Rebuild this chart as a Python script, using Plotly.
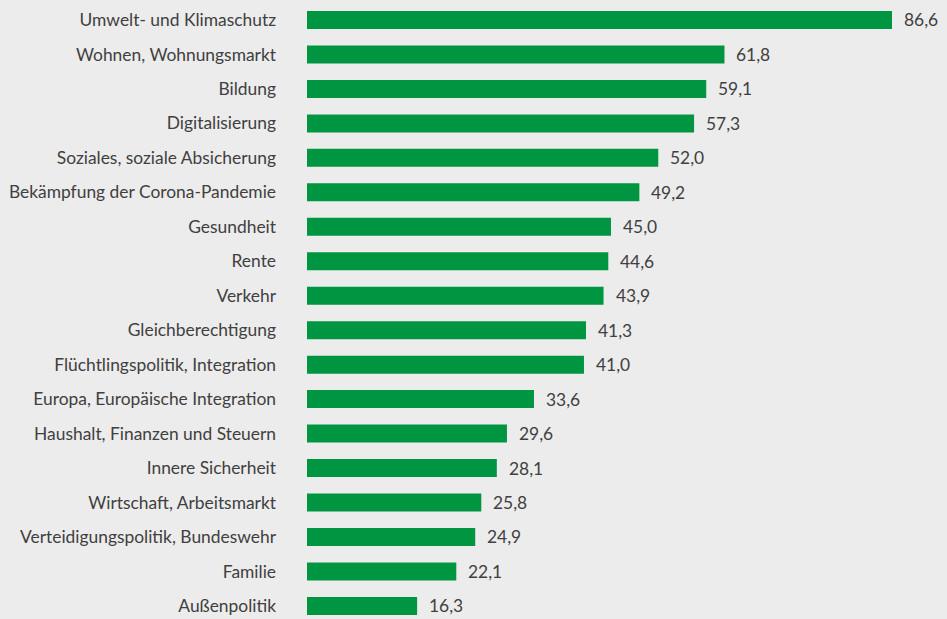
import plotly.graph_objects as go

#-----------------------------------------------------------------------------
# data
THEMEN = ['Umwelt- und Klimaschutz', 'Wohnen, Wohnungsmarkt', 'Bildung',
          'Digitalisierung', 'Soziales, soziale Absicherung',
          'Bekämpfung der Corona-Pandemie', 'Gesundheit', 'Rente', 'Verkehr',
          'Gleichberechtigung', 'Flüchtlingspolitik, Integration',
          'Europa, Europäische Integration', 'Haushalt, Finanzen und Steuern',
          'Innere Sicherheit', 'Wirtschaft, Arbeitsmarkt',
          'Verteidigungspolitik, Bundeswehr', 'Familie', 'Außenpolitik']
WERTE = [86.6, 61.8, 59.1, 57.3, 52.0, 49.2, 45.0, 44.6, 43.9,
         41.3, 41.0, 33.6, 29.6, 28.1, 25.8, 24.9, 22.1, 16.3]

BG = '#ececec'
GREEN = '#009641'
TEXT = '#404040'

fig = go.Figure(go.Bar(
    x=WERTE,
    y=THEMEN,
    orientation='h',
    marker=dict(color=GREEN, line_width=0),
    hoverinfo='skip',
))

# value labels right of each bar, german decimal comma
for thema, wert in zip(THEMEN, WERTE):
    fig.add_annotation(x=wert, y=thema, text=f'{wert:.1f}'.replace('.', ','),
                       xanchor='left', xshift=10, showarrow=False,
                       font=dict(size=17.4, color=TEXT, family='Lato'))

fig.update_layout(
    width=947, height=619,
    margin=dict(l=307, r=0, t=0, b=0),
    paper_bgcolor=BG, plot_bgcolor=BG,
    bargap=0.478,
    showlegend=False,
    font=dict(family='Lato', size=17.4, color=TEXT),
)
fig.update_xaxes(range=[0, 94.74], visible=False, showgrid=False, zeroline=False)
fig.update_yaxes(range=[17.38, -0.58], showgrid=False, zeroline=False,
                 ticks='', ticklabelstandoff=30, showline=False)

# page body has a default margin, drop it so the chart fills the window
fig.write_html('out.html', config={'displayModeBar': False},
               post_script="document.body.style.margin='0';"
                           "document.body.style.background='" + BG + "';")
